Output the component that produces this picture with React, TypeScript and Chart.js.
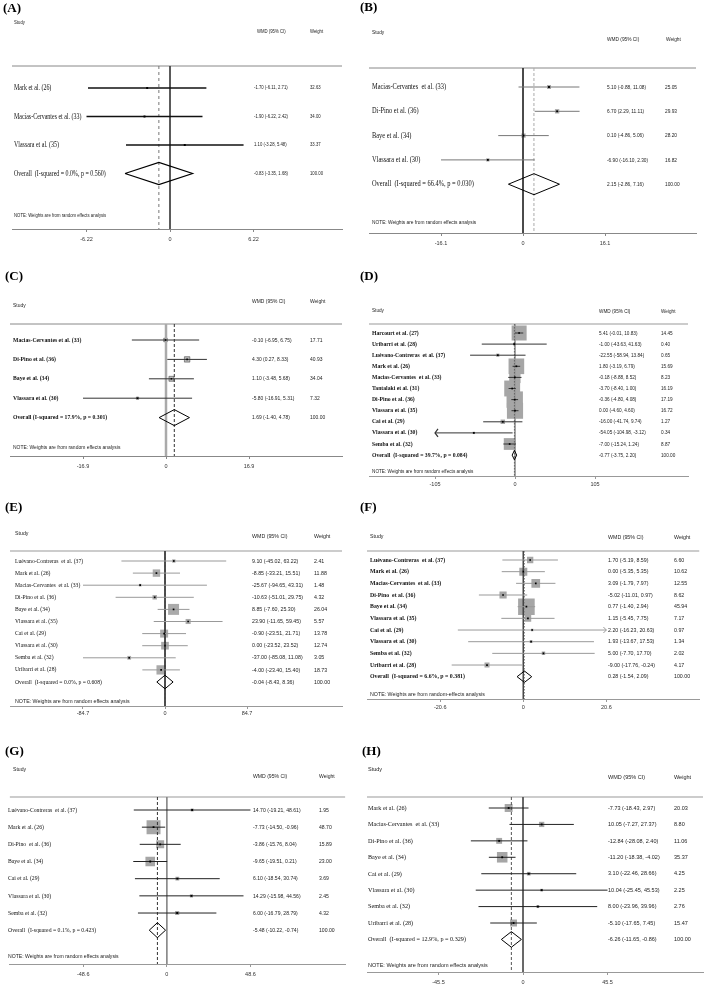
import React, { useEffect, useRef } from "react";
import { Chart, registerables } from "chart.js";
Chart.register(...registerables);

// ---------- shared text ----------
const HEAD_STUDY = "Study";
const HEAD_WMD = "WMD (95% CI)";
const HEAD_WEIGHT = "Weight";
const NOTE_TEXT = "NOTE: Weights are from random effects analysis";
const NOTE_TEXT_F = "NOTE: Weights are from random-effects analysis";

// ---------- Panel A ----------
const A_studies = ["Mark et al. (26)", "Macias-Cervantes et al. (33)", "Vlassara et al. (35)"];
const A_wmd = [-1.7, -1.9, 1.1];
const A_lower = [-6.11, -6.22, -3.28];
const A_upper = [2.71, 2.42, 5.48];
const A_weight = [32.63, 34.0, 33.37];
const A_overall = [-0.83, -3.35, 1.68];
const A_overallLabel = "Overall  (I-squared = 0.0%, p = 0.560)";
const A_tick = 6.22;
const A_tickLabels = ["-6.22", "0", "6.22"];

// ---------- Panel B ----------
const B_studies = ["Macias-Cervantes  et al. (33)", "Di-Pino et al. (36)", "Baye et al. (34)", "Vlassara et al. (30)"];
const B_wmd = [5.1, 6.7, 0.1, -6.9];
const B_lower = [-0.88, 2.29, -4.86, -16.1];
const B_upper = [11.08, 11.11, 5.06, 2.3];
const B_weight = [25.05, 29.93, 28.2, 16.82];
const B_overall = [2.15, -2.86, 7.16];
const B_overallLabel = "Overall  (I-squared = 66.4%, p = 0.030)";
const B_tick = 16.1;
const B_tickLabels = ["-16.1", "0", "16.1"];

// ---------- Panel C ----------
const C_studies = ["Macias-Cervantes et al. (33)", "Di-Pino et al. (36)", "Baye et al. (34)", "Vlassara et al. (30)"];
const C_wmd = [-0.1, 4.3, 1.1, -5.8];
const C_lower = [-6.95, 0.27, -3.48, -16.91];
const C_upper = [6.75, 8.33, 5.68, 5.31];
const C_weight = [17.71, 40.93, 34.04, 7.32];
const C_overall = [1.69, -1.4, 4.78];
const C_overallLabel = "Overall (I-squared = 17.9%, p = 0.301)";
const C_tick = 16.9;
const C_tickLabels = ["-16.9", "0", "16.9"];

// ---------- Panel D ----------
const D_studies = [
  "Harcourt et al. (27)", "Uribarri et al. (28)", "Luévano-Contreras  et al. (37)", "Mark et al. (26)",
  "Macias-Cervantes  et al. (33)", "Tantalaki et al. (31)", "Di-Pino et al. (36)", "Vlassara et al. (35)",
  "Cai et al. (29)", "Vlassara et al. (30)", "Semba et al. (32)",
];
const D_wmd = [5.41, -1.0, -22.55, 1.8, -0.18, -3.7, -0.36, 0.0, -16.0, -54.05, -7.0];
const D_lower = [-0.01, -43.63, -58.94, -3.19, -8.88, -8.4, -4.8, -4.6, -41.74, -104.98, -15.24];
const D_upper = [10.83, 41.63, 13.84, 6.79, 8.52, 1.0, 4.08, 4.6, 9.74, -3.12, 1.24];
const D_weight = [14.45, 0.4, 0.65, 15.69, 8.23, 16.19, 17.19, 16.72, 1.27, 0.34, 8.87];
const D_overall = [-0.77, -3.75, 2.2];
const D_overallLabel = "Overall  (I-squared = 39.7%, p = 0.084)";
const D_tick = 105;
const D_tickLabels = ["-105", "0", "105"];

// ---------- Panel E ----------
const E_studies = [
  "Luévano-Contreras  et al. (37)", "Mark et al. (26)", "Macias-Cervantes  et al. (33)", "Di-Pino et al. (36)",
  "Baye et al. (34)", "Vlassara et al. (35)", "Cai et al. (29)", "Vlassara et al. (30)", "Semba et al. (32)",
  "Uribarri et al. (28)",
];
const E_wmd = [9.1, -8.85, -25.67, -10.63, 8.85, 23.9, -0.9, 0.0, -37.0, -4.0];
const E_lower = [-45.02, -33.21, -94.65, -51.01, -7.6, -11.65, -23.51, -23.52, -85.08, -23.4];
const E_upper = [63.22, 15.51, 43.31, 29.75, 25.3, 59.45, 21.71, 23.52, 11.08, 15.4];
const E_weight = [2.41, 11.88, 1.48, 4.32, 26.04, 5.57, 13.78, 12.74, 3.05, 18.73];
const E_overall = [-0.04, -8.43, 8.36];
const E_overallLabel = "Overall  (I-squared = 0.0%, p = 0.608)";
const E_tick = 84.7;
const E_tickLabels = ["-84.7", "0", "84.7"];

// ---------- Panel F ----------
const F_studies = [
  "Luévano-Contreras  et al. (37)", "Mark et al. (26)", "Macias-Cervantes  et al. (33)", "Di-Pino  et al. (36)",
  "Baye et al. (34)", "Vlassara et al. (35)", "Cai et al. (29)", "Vlassara et al. (30)", "Semba et al. (32)",
  "Uribarri et al. (28)",
];
const F_wmd = [1.7, 0.0, 3.09, -5.02, 0.77, 1.15, 2.2, 1.93, 5.0, -9.0];
const F_lower = [-5.19, -5.35, -1.79, -11.01, -1.4, -5.45, -16.23, -13.67, -7.7, -17.76];
const F_upper = [8.59, 5.35, 7.97, 0.97, 2.94, 7.75, 20.63, 17.53, 17.7, -0.24];
const F_weight = [6.6, 10.62, 12.55, 8.62, 45.94, 7.17, 0.97, 1.34, 2.02, 4.17];
const F_overall = [0.28, -1.54, 2.09];
const F_overallLabel = "Overall  (I-squared = 6.6%, p = 0.381)";
const F_tick = 20.6;
const F_tickLabels = ["-20.6", "0", "20.6"];

// ---------- Panel G ----------
const G_studies = [
  "Luévano-Contreras  et al. (37)", "Mark et al. (26)", "Di-Pino  et al. (36)", "Baye et al. (34)",
  "Cai et al. (29)", "Vlassara et al. (30)", "Semba et al. (32)",
];
const G_wmd = [14.7, -7.73, -3.86, -9.65, 6.1, 14.29, 6.0];
const G_lower = [-19.21, -14.5, -15.76, -19.51, -18.54, -15.98, -16.79];
const G_upper = [48.61, -0.96, 8.04, 0.21, 30.74, 44.56, 28.79];
const G_weight = [1.95, 48.7, 15.89, 23.0, 3.69, 2.45, 4.32];
const G_overall = [-5.48, -10.22, -0.74];
const G_overallLabel = "Overall  (I-squared = 0.1%, p = 0.423)";
const G_tick = 48.6;
const G_tickLabels = ["-48.6", "0", "48.6"];

// ---------- Panel H ----------
const H_studies = [
  "Mark et al. (26)", "Macias-Cervantes  et al. (33)", "Di-Pino et al. (36)", "Baye et al. (34)",
  "Cai et al. (29)", "Vlassara et al. (30)", "Semba et al. (32)", "Uribarri et al. (28)",
];
const H_wmd = [-7.73, 10.05, -12.84, -11.2, 3.1, 10.04, 8.0, -5.1];
const H_lower = [-18.43, -7.27, -28.08, -18.38, -22.46, -25.45, -23.96, -17.65];
const H_upper = [2.97, 27.37, 2.4, -4.02, 28.66, 45.53, 39.96, 7.45];
const H_weight = [20.03, 8.8, 11.06, 35.37, 4.25, 2.25, 2.76, 15.47];
const H_overall = [-6.26, -11.65, -0.86];
const H_overallLabel = "Overall  (I-squared = 12.9%, p = 0.329)";
const H_tick = 45.5;
const H_tickLabels = ["-45.5", "0", "45.5"];

// ---------- layout & style (page pixels) ----------
const SERIF = '"Liberation Serif", "Times New Roman", serif';
const SANS = '"Liberation Sans", Arial, sans-serif';
const XH = 14;

const LAYOUT_A = {
  left: 0, top: 0, width: 355, height: 250, L: 12, R: 342, x0: 170, tickPx: 83.5,
  topY: 66, row0: 88, step: 28.5, axisY: 229, noteY: 216, tickPad: 4,
  labelX: 3, labelY: 9, studyX: 14, studyY: 23, colHdrY: 32, nameX: 14, noteX: 14,
  wmdX: 254, wmdHdrX: 257, wtX: 310, wtHdrX: 310,
  nameSize: 8.5, nameBold: false, nameSx: 0.7, smallSize: 5, smallSx: 0.85,
  ciColor: "#111", ciW: 1.3, boxK: 0, boxColor: "#aaa", boxBorder: "#aaa", boxBW: 0, ptR: 1.4,
  zeroColor: "#444", zeroW: 1, dashColor: "#777", dash: [3, 3], dashW: 1,
  diamondPx: 11, diamondW: 1.2, frameColor: "#888", arrows: false, arrowW: 3, arrowH: 4,
};
const LAYOUT_B = {
  left: 355, top: 0, width: 356, height: 250, L: 369, R: 696, x0: 523, tickPx: 82,
  topY: 68, row0: 87, step: 24.3, axisY: 233, noteY: 222, tickPad: 4,
  labelX: 360, labelY: 8, studyX: 372, studyY: 32, colHdrY: 39, nameX: 372, noteX: 372,
  wmdX: 607, wmdHdrX: 607, wtX: 665, wtHdrX: 666,
  nameSize: 8, nameBold: false, nameSx: 0.8, smallSize: 6, smallSx: 0.8,
  ciColor: "#777", ciW: 1, boxK: 0.8, boxColor: "#aaa", boxBorder: "#aaa", boxBW: 0, ptR: 1.3,
  zeroColor: "#333", zeroW: 1, dashColor: "#aaa", dash: [3, 2], dashW: 1,
  diamondPx: 10.5, diamondW: 1, frameColor: "#888", arrows: false, arrowW: 3, arrowH: 4,
};
const LAYOUT_C = {
  left: 0, top: 245, width: 355, height: 250, L: 10, R: 342, x0: 166, tickPx: 83,
  topY: 324, row0: 340, step: 19.4, axisY: 456, noteY: 447, tickPad: 4,
  labelX: 5, labelY: 277, studyX: 13, studyY: 305, colHdrY: 301, nameX: 13, noteX: 13,
  wmdX: 252, wmdHdrX: 252, wtX: 310, wtHdrX: 310,
  nameSize: 6.5, nameBold: true, nameSx: 0.88, smallSize: 5.5, smallSx: 0.9,
  ciColor: "#333", ciW: 1, boxK: 0.85, boxColor: "#bbb", boxBorder: "#333", boxBW: 0.5, ptR: 1.1,
  zeroColor: "#aaa", zeroW: 2.5, dashColor: "#333", dash: [3, 2], dashW: 1,
  diamondPx: 8, diamondW: 1, frameColor: "#888", arrows: false, arrowW: 3, arrowH: 4,
};
const LAYOUT_D = {
  left: 355, top: 245, width: 356, height: 250, L: 369, R: 688, x0: 515, tickPx: 80,
  topY: 324, row0: 333, step: 11.1, axisY: 476, noteY: 471, tickPad: 2,
  labelX: 360, labelY: 277, studyX: 372, studyY: 310, colHdrY: 311, nameX: 372, noteX: 372,
  wmdX: 599, wmdHdrX: 599, wtX: 661, wtHdrX: 661,
  nameSize: 6, nameBold: true, nameSx: 0.95, smallSize: 5.5, smallSx: 0.85,
  ciColor: "#333", ciW: 1, boxK: 3.95, boxColor: "#a6a6a6", boxBorder: "#a6a6a6", boxBW: 0, ptR: 1.2,
  zeroColor: "#999", zeroW: 1, dashColor: "#666", dash: [1.5, 1.5], dashW: 1,
  diamondPx: 4.7, diamondW: 1, frameColor: "#999", arrows: true, arrowW: 3, arrowH: 4,
};
const LAYOUT_E = {
  left: 0, top: 490, width: 355, height: 250, L: 10, R: 342, x0: 165, tickPx: 82,
  topY: 551, row0: 561, step: 12.1, axisY: 706, noteY: 701, tickPad: 1,
  labelX: 5, labelY: 508, studyX: 15, studyY: 533, colHdrY: 536, nameX: 15, noteX: 15,
  wmdX: 252, wmdHdrX: 252, wtX: 314, wtHdrX: 314,
  nameSize: 6, nameBold: false, nameSx: 0.94, smallSize: 6, smallSx: 0.88,
  ciColor: "#999", ciW: 1, boxK: 2.15, boxColor: "#aaa", boxBorder: "#aaa", boxBW: 0, ptR: 1.2,
  zeroColor: "#333", zeroW: 1, dashColor: "#555", dash: [2, 2], dashW: 1,
  diamondPx: 6.8, diamondW: 1, frameColor: "#999", arrows: false, arrowW: 3, arrowH: 4,
};
const LAYOUT_F = {
  left: 355, top: 490, width: 356, height: 250, L: 367, R: 705, x0: 526, tickPx: 84.5,
  topY: 551, row0: 560, step: 11.67, axisY: 699, noteY: 694, tickPad: 2,
  labelX: 360, labelY: 508, studyX: 370, studyY: 536, colHdrY: 537, nameX: 370, noteX: 370,
  wmdX: 608, wmdHdrX: 608, wtX: 674, wtHdrX: 674,
  nameSize: 6.5, nameBold: true, nameSx: 0.9, smallSize: 6, smallSx: 0.88,
  ciColor: "#999", ciW: 1, boxK: 2.45, boxColor: "#a6a6a6", boxBorder: "#a6a6a6", boxBW: 0, ptR: 1.2,
  zeroColor: "#444", zeroW: 1, dashColor: "#888", dash: [1.5, 1.5], dashW: 1,
  diamondPx: 5.7, diamondW: 1, frameColor: "#999", arrows: true, arrowW: 3, arrowH: 3,
};
const LAYOUT_G = {
  left: 0, top: 735, width: 355, height: 253, L: 4, R: 350, x0: 166, tickPx: 86.3,
  topY: 797, row0: 810, step: 17.17, axisY: 964, noteY: 956, tickPad: 4,
  labelX: 5, labelY: 752, studyX: 13, studyY: 769, colHdrY: 776, nameX: 8, noteX: 8,
  wmdX: 253, wmdHdrX: 253, wtX: 319, wtHdrX: 319,
  nameSize: 6.5, nameBold: false, nameSx: 0.88, smallSize: 6, smallSx: 0.85,
  ciColor: "#222", ciW: 1, boxK: 2.0, boxColor: "#a6a6a6", boxBorder: "#a6a6a6", boxBW: 0, ptR: 1.3,
  zeroColor: "#888", zeroW: 1, dashColor: "#333", dash: [3, 2], dashW: 1,
  diamondPx: 7.5, diamondW: 1, frameColor: "#999", arrows: false, arrowW: 3, arrowH: 4,
};
const LAYOUT_H = {
  left: 355, top: 735, width: 356, height: 253, L: 367, R: 703, x0: 523, tickPx: 84.5,
  topY: 797, row0: 808, step: 16.43, axisY: 972, noteY: 965, tickPad: 4,
  labelX: 362, labelY: 752, studyX: 368, studyY: 769, colHdrY: 777, nameX: 368, noteX: 368,
  wmdX: 608, wmdHdrX: 608, wtX: 674, wtHdrX: 674,
  nameSize: 7, nameBold: false, nameSx: 0.88, smallSize: 6, smallSx: 0.92,
  ciColor: "#222", ciW: 1, boxK: 1.77, boxColor: "#a6a6a6", boxBorder: "#a6a6a6", boxBW: 0, ptR: 1.3,
  zeroColor: "#555", zeroW: 1, dashColor: "#555", dash: [3, 2], dashW: 1,
  diamondPx: 7.8, diamondW: 1, frameColor: "#999", arrows: false, arrowW: 3, arrowH: 4,
};

const PANELS = [
  { label: "(A)", studies: A_studies, est: A_wmd, lo: A_lower, hi: A_upper, weight: A_weight, overall: A_overall, overallLabel: A_overallLabel, tick: A_tick, tickLabels: A_tickLabels, note: NOTE_TEXT, layout: LAYOUT_A },
  { label: "(B)", studies: B_studies, est: B_wmd, lo: B_lower, hi: B_upper, weight: B_weight, overall: B_overall, overallLabel: B_overallLabel, tick: B_tick, tickLabels: B_tickLabels, note: NOTE_TEXT, layout: LAYOUT_B },
  { label: "(C)", studies: C_studies, est: C_wmd, lo: C_lower, hi: C_upper, weight: C_weight, overall: C_overall, overallLabel: C_overallLabel, tick: C_tick, tickLabels: C_tickLabels, note: NOTE_TEXT, layout: LAYOUT_C },
  { label: "(D)", studies: D_studies, est: D_wmd, lo: D_lower, hi: D_upper, weight: D_weight, overall: D_overall, overallLabel: D_overallLabel, tick: D_tick, tickLabels: D_tickLabels, note: NOTE_TEXT, layout: LAYOUT_D },
  { label: "(E)", studies: E_studies, est: E_wmd, lo: E_lower, hi: E_upper, weight: E_weight, overall: E_overall, overallLabel: E_overallLabel, tick: E_tick, tickLabels: E_tickLabels, note: NOTE_TEXT, layout: LAYOUT_E },
  { label: "(F)", studies: F_studies, est: F_wmd, lo: F_lower, hi: F_upper, weight: F_weight, overall: F_overall, overallLabel: F_overallLabel, tick: F_tick, tickLabels: F_tickLabels, note: NOTE_TEXT_F, layout: LAYOUT_F },
  { label: "(G)", studies: G_studies, est: G_wmd, lo: G_lower, hi: G_upper, weight: G_weight, overall: G_overall, overallLabel: G_overallLabel, tick: G_tick, tickLabels: G_tickLabels, note: NOTE_TEXT, layout: LAYOUT_G },
  { label: "(H)", studies: H_studies, est: H_wmd, lo: H_lower, hi: H_upper, weight: H_weight, overall: H_overall, overallLabel: H_overallLabel, tick: H_tick, tickLabels: H_tickLabels, note: NOTE_TEXT, layout: LAYOUT_H },
];

function drawText(ctx: any, txt: string, x: number, y: number, size: number, family: string, bold: boolean, sx: number, color: string) {
  ctx.save();
  ctx.translate(x, y);
  ctx.scale(sx, 1);
  ctx.font = `${bold ? "bold " : ""}${size}px ${family}`;
  ctx.fillStyle = color;
  ctx.textBaseline = "middle";
  ctx.textAlign = "left";
  ctx.fillText(txt, 0, 0);
  ctx.restore();
}

const fmt = (v: number) => v.toFixed(2);

function buildConfig(p: any) {
  const L = p.layout;
  const n = p.studies.length;
  const yMin = -(L.row0 - L.topY) / L.step;
  const yMax = (L.axisY - L.row0) / L.step;
  const xMin = -((L.x0 - L.L) / L.tickPx) * p.tick;
  const xMax = ((L.R - L.x0) / L.tickPx) * p.tick;
  const ux = p.tick / L.tickPx;
  const clampX = (v: number) => Math.max(-p.tick, Math.min(p.tick, v));
  const rows = p.est.map((e: number, i: number) => ({ x: e, y: i }));
  const [oe, ol, oh] = p.overall;
  const dh = L.diamondPx / L.step;
  const lineDs = (data: any[], color: string, width: number, extra: any = {}) => ({
    data, showLine: true, borderColor: color, borderWidth: width, pointRadius: 0, fill: false, tension: 0, ...extra,
  });
  const ds: any[] = [];
  // study point estimates (on top)
  ds.push({
    data: rows, showLine: false, pointStyle: "rect", pointRadius: L.ptR,
    pointBackgroundColor: "#000", pointBorderColor: "#000", pointBorderWidth: 0,
  });
  // pooled diamond
  ds.push(lineDs([{ x: ol, y: n }, { x: oe, y: n - dh }, { x: oh, y: n }, { x: oe, y: n + dh }, { x: ol, y: n }], "#000", L.diamondW));
  // truncation arrows
  if (L.arrows) {
    const ax = L.arrowW * ux;
    const ay = L.arrowH / L.step;
    p.est.forEach((_: number, i: number) => {
      if (p.lo[i] <= -p.tick + 0.05) {
        ds.push(lineDs([{ x: -p.tick + ax, y: i - ay }, { x: -p.tick, y: i }, { x: -p.tick + ax, y: i + ay }], L.ciColor, 1.2));
      }
      if (p.hi[i] >= p.tick - 0.05) {
        ds.push(lineDs([{ x: p.tick - ax, y: i - ay }, { x: p.tick, y: i }, { x: p.tick - ax, y: i + ay }], L.ciColor, 1));
      }
    });
  }
  // confidence intervals
  p.est.forEach((_: number, i: number) => {
    ds.push(lineDs([{ x: clampX(p.lo[i]), y: i }, { x: clampX(p.hi[i]), y: i }], L.ciColor, L.ciW));
  });
  // pooled estimate (dashed) and null line
  ds.push(lineDs([{ x: oe, y: yMin }, { x: oe, y: yMax }], L.dashColor, L.dashW, { borderDash: L.dash, clip: false }));
  ds.push(lineDs([{ x: 0, y: yMin }, { x: 0, y: yMax }], L.zeroColor, L.zeroW, { clip: false }));
  // weight boxes
  ds.push({
    data: rows, showLine: false, pointStyle: "rect",
    pointRadius: p.weight.map((w: number) => (L.boxK * Math.sqrt(w)) / Math.SQRT2),
    pointBackgroundColor: L.boxColor, pointBorderColor: L.boxBorder, pointBorderWidth: L.boxBW,
  });
  // top rule
  ds.push(lineDs([{ x: xMin, y: yMin }, { x: xMax, y: yMin }], L.frameColor, 1, { clip: false }));

  const textPlugin = {
    id: "forestText",
    afterDraw(chart: any) {
      const ctx = chart.ctx;
      const ys = chart.scales.y;
      const ox = L.left;
      const oy = L.top;
      drawText(ctx, p.label, L.labelX - ox, L.labelY - oy, 13, SERIF, true, 1, "#000");
      drawText(ctx, HEAD_STUDY, L.studyX - ox, L.studyY - oy, L.smallSize, SANS, false, L.smallSx, "#222");
      drawText(ctx, HEAD_WMD, L.wmdHdrX - ox, L.colHdrY - oy, L.smallSize, SANS, false, L.smallSx, "#222");
      drawText(ctx, HEAD_WEIGHT, L.wtHdrX - ox, L.colHdrY - oy, L.smallSize, SANS, false, L.smallSx, "#222");
      p.studies.forEach((s: string, i: number) => {
        const y = ys.getPixelForValue(i);
        drawText(ctx, s, L.nameX - ox, y, L.nameSize, SERIF, L.nameBold, L.nameSx, "#111");
        drawText(ctx, `${fmt(p.est[i])} (${fmt(p.lo[i])}, ${fmt(p.hi[i])})`, L.wmdX - ox, y, L.smallSize, SANS, false, L.smallSx, "#222");
        drawText(ctx, fmt(p.weight[i]), L.wtX - ox, y, L.smallSize, SANS, false, L.smallSx, "#222");
      });
      const yo = ys.getPixelForValue(n);
      drawText(ctx, p.overallLabel, L.nameX - ox, yo, L.nameSize, SERIF, L.nameBold, L.nameSx, "#111");
      drawText(ctx, `${fmt(oe)} (${fmt(ol)}, ${fmt(oh)})`, L.wmdX - ox, yo, L.smallSize, SANS, false, L.smallSx, "#222");
      drawText(ctx, fmt(100), L.wtX - ox, yo, L.smallSize, SANS, false, L.smallSx, "#222");
      drawText(ctx, p.note, L.noteX - ox, L.noteY - oy, L.smallSize, SANS, false, L.smallSx, "#222");
    },
  };

  return {
    type: "scatter",
    data: { datasets: ds },
    plugins: [textPlugin],
    options: {
      responsive: true,
      maintainAspectRatio: false,
      animation: false,
      events: [],
      layout: {
        padding: {
          left: L.L - L.left,
          right: L.left + L.width - L.R,
          top: L.topY - L.top,
          bottom: L.height - (L.axisY - L.top) - XH,
        },
      },
      plugins: { legend: { display: false }, tooltip: { enabled: false } },
      scales: {
        x: {
          type: "linear",
          position: "bottom",
          min: xMin,
          max: xMax,
          grid: { display: true, drawOnChartArea: false, drawTicks: true, tickLength: 3, color: L.frameColor },
          border: { display: true, color: L.frameColor, width: 1 },
          ticks: {
            autoSkip: false,
            maxRotation: 0,
            padding: L.tickPad,
            color: "#333",
            font: { family: SANS, size: 5.5 },
            callback: (_v: any, idx: number) => p.tickLabels[idx],
          },
          afterBuildTicks: (s: any) => {
            s.ticks = [-p.tick, 0, p.tick].map((v) => ({ value: v }));
          },
          afterFit: (s: any) => {
            s.height = XH;
          },
        },
        y: { type: "linear", display: false, reverse: true, min: yMin, max: yMax },
      },
    },
  };
}

function ForestPanel({ panel }: { panel: any }) {
  const ref = useRef<HTMLCanvasElement | null>(null);
  useEffect(() => {
    if (!ref.current) return;
    const chart = new Chart(ref.current, buildConfig(panel) as any);
    return () => chart.destroy();
  }, [panel]);
  const L = panel.layout;
  return (
    <div style={{ position: "absolute", left: L.left, top: L.top, width: L.width, height: L.height }}>
      <canvas ref={ref} />
    </div>
  );
}

export default function App() {
  return (
    <div style={{ position: "absolute", left: 0, top: 0, width: 711, height: 988, background: "#fff", overflow: "hidden" }}>
      {PANELS.map((p) => (
        <ForestPanel key={p.label} panel={p} />
      ))}
    </div>
  );
}
